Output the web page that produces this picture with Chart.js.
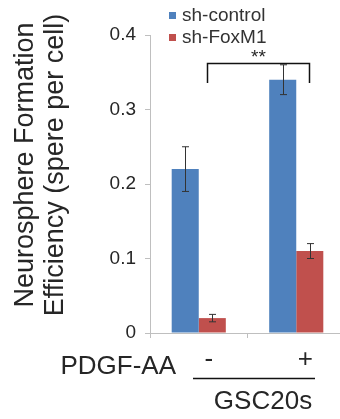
<!DOCTYPE html>
<html>
<head>
<meta charset="utf-8">
<script src="https://cdn.jsdelivr.net/npm/chart.js@4/dist/chart.umd.min.js"></script>
<style>
  html, body { margin: 0; padding: 0; background: #fff; overflow: hidden; }
  canvas { display: block; }
</style>
</head>
<body>
<canvas id="chart" width="345" height="419"></canvas>
<script>
// values
const categories = ['-', '+'];
const seriesNames = ['sh-control', 'sh-FoxM1'];
const controlValues = [0.22, 0.34];
const controlErrors = [0.03, 0.02];
const foxValues = [0.02, 0.11];
const foxErrors = [0.005, 0.01];
const yTicks = [0, 0.1, 0.2, 0.3, 0.4];

const BLUE = '#4F81BD';
const RED = '#C0504D';
const AXIS_GREY = '#BFBFBF';
const TEXT = '#262626';
const FONT = 'Arial, "Liberation Sans", sans-serif';

const errors = [controlErrors, foxErrors];

const extrasPlugin = {
	id: 'extras',
	afterDatasetsDraw: (chart) => {
		const ctx = chart.ctx;
		const y = chart.scales.y;
		ctx.save();

		// error bars
		ctx.strokeStyle = '#333';
		ctx.lineWidth = 1;
		chart.data.datasets.forEach((ds, i) => {
			const meta = chart.getDatasetMeta(i);
			meta.data.forEach((bar, j) => {
				const v = ds.data[j];
				const e = errors[i][j];
				const top = y.getPixelForValue(v + e);
				const bot = y.getPixelForValue(v - e);
				const x = Math.round(bar.x) + 0.5;
				ctx.beginPath();
				ctx.moveTo(x, top); ctx.lineTo(x, bot);
				ctx.moveTo(x - 3.5, top); ctx.lineTo(x + 3.5, top);
				ctx.moveTo(x - 3.5, bot); ctx.lineTo(x + 3.5, bot);
				ctx.stroke();
			});
		});

		// significance bracket between the two control bars... from first fox bar to second control bar
		const b1 = chart.getDatasetMeta(1).data[0];
		const b2 = chart.getDatasetMeta(0).data[1];
		const lx = Math.round(b1.x) - 4.5, rx = Math.round(b2.x) + 26.5;
		const by = 63.5;
		ctx.strokeStyle = '#111';
		ctx.lineWidth = 1.5;
		ctx.beginPath();
		ctx.moveTo(lx, 83); ctx.lineTo(lx, by); ctx.lineTo(rx, by); ctx.lineTo(rx, 83);
		ctx.stroke();
		ctx.fillStyle = TEXT;
		ctx.font = '19px ' + FONT;
		ctx.textAlign = 'center';
		ctx.textBaseline = 'middle';
		ctx.fillText('**', (lx + rx) / 2, 58);

		// legend
		const legendColors = [BLUE, RED];
		ctx.font = '19px ' + FONT;
		ctx.textAlign = 'left';
		seriesNames.forEach((name, i) => {
			const ly = 15 + i * 22;
			ctx.fillStyle = legendColors[i];
			ctx.fillRect(169, ly - 3, 7, 7);
			ctx.fillStyle = '#333';
			ctx.fillText(name, 182, ly + 1);
		});

		// y axis title, two lines rotated
		ctx.fillStyle = TEXT;
		ctx.font = '27px ' + FONT;
		ctx.textAlign = 'center';
		ctx.save();
		ctx.translate(26, 165);
		ctx.rotate(-Math.PI / 2);
		ctx.fillText('Neurosphere Formation', 0, 0);
		ctx.fillText('Efficiency (spere per cell)', 0, 30);
		ctx.restore();

		// treatment row below the x axis
		ctx.font = '26px ' + FONT;
		ctx.textAlign = 'right';
		ctx.fillText('PDGF-AA', 176, 367);
		ctx.textAlign = 'center';
		categories.forEach((c, j) => {
			const cx = chart.scales.x.getPixelForValue(j);
			ctx.fillText(c, cx + (j === 0 ? 10 : 9), 360);
		});
		ctx.strokeStyle = '#111';
		ctx.lineWidth = 1.5;
		ctx.beginPath();
		ctx.moveTo(193, 378.5); ctx.lineTo(315, 378.5);
		ctx.stroke();
		ctx.fillText('GSC20s', 263, 402);

		ctx.restore();
	}
};

const chartCtx = document.getElementById('chart').getContext('2d');

const chart = new Chart(chartCtx, {
	type: 'bar',
	data: {
		labels: categories,
		datasets: [{
			label: seriesNames[0],
			data: controlValues,
			backgroundColor: BLUE,
			categoryPercentage: 0.555,
			barPercentage: 1
		}, {
			label: seriesNames[1],
			data: foxValues,
			backgroundColor: RED,
			categoryPercentage: 0.555,
			barPercentage: 1
		}]
	},
	options: {
		responsive: false,
		animation: false,
		layout: { padding: { top: 35, right: 0, bottom: 0, left: 0 } },
		plugins: {
			legend: { display: false },
			tooltip: { enabled: false }
		},
		scales: {
			x: {
				grid: { offset: true, drawOnChartArea: false, tickLength: 5, color: AXIS_GREY },
				border: { color: AXIS_GREY },
				ticks: { display: false },
				afterFit: (scale) => { scale.height = 86; }
			},
			y: {
				min: 0,
				max: 0.4,
				afterBuildTicks: (scale) => { scale.ticks = yTicks.map(v => ({ value: v })); },
				grid: { drawOnChartArea: false, tickLength: 5, color: AXIS_GREY },
				border: { color: AXIS_GREY },
				ticks: {
					padding: 9,
					color: TEXT,
					font: { family: FONT, size: 19 },
					callback: (v) => String(Math.round(v * 10) / 10)
				},
				afterFit: (scale) => { scale.width = 150; }
			}
		}
	},
	plugins: [extrasPlugin]
});
</script>
</body>
</html>
